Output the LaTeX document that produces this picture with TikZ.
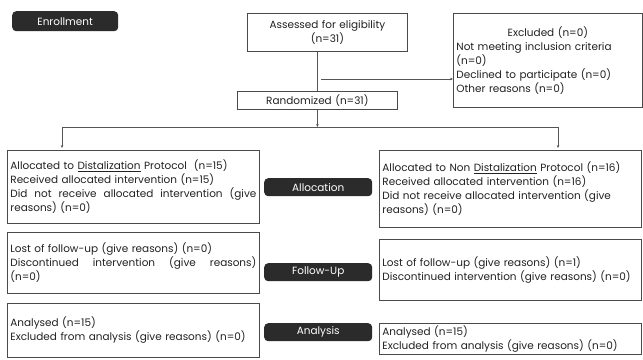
\documentclass[tikz,border=0pt]{standalone}
\usepackage{fontspec}
\setmainfont{Poppins}
\usetikzlibrary{arrows.meta}
\definecolor{boxc}{HTML}{4A4A4A}
\definecolor{lblc}{HTML}{2B2B2B}
\definecolor{arrc}{HTML}{555555}
\definecolor{txtc}{HTML}{222222}
\newcommand{\jline}[2]{\leavevmode\hbox to #1{#2}}
\tikzset{
  box/.style={draw=boxc, line width=0.8bp, anchor=north west, inner xsep=3bp, inner ysep=0bp,
    font=\fontsize{10.5}{14}\selectfont, text=txtc, align=left},
  lbl/.style={fill=lblc, rounded corners=4bp, text=white, anchor=north west, inner sep=0bp,
    font=\fontsize{10.5}{12}\selectfont, align=center},
  arr/.style={draw=arrc, line width=0.7bp, -{Stealth[length=3bp,width=2.6bp]}},
  ln/.style={draw=arrc, line width=0.7bp}
}
\begin{document}
\begin{tikzpicture}[x=1bp,y=-1bp]
\useasboundingbox[fill=white] (0,0) rectangle (643,359);
% stage labels
\node[lbl, minimum width=106bp, minimum height=20bp] (enr) at (12,11) {Enrollment};
\node[lbl, minimum width=108bp, minimum height=18bp] (alloc) at (264,178) {Allocation};
\node[lbl, minimum width=108bp, minimum height=18bp] (fu) at (264,263) {Follow-Up};
\node[lbl, minimum width=108bp, minimum height=18bp] (an) at (264,323) {Analysis};
% enrollment boxes
\node[box, align=center, text width=154bp, minimum height=38bp] (assess) at (247,13)
  {Assessed for eligibility\\(n=31)};
\node[box, text width=183bp, minimum height=94bp] (excl) at (453,13)
  {\makebox[183bp][c]{Excluded (n=0)}\\Not meeting inclusion criteria\\(n=0)\\Declined to participate (n=0)\\Other reasons (n=0)};
\node[box, align=center, text width=154bp, minimum height=18bp] (rand) at (237,91)
  {Randomized (n=31)};
% left column
\node[box, text width=246bp, minimum height=73bp] (la) at (7,150)
  {Allocated to \underline{Distalization} Protocol\ \ (n=15)\\Received allocated intervention (n=15)\\\jline{246bp}{Did\hfill not\hfill receive\hfill allocated\hfill intervention\hfill (give}\\reasons) (n=0)};
\node[box, text width=246bp, minimum height=61bp] (lf) at (7,232)
  {Lost of follow-up (give reasons) (n=0)\\\jline{246bp}{Discontinued\hfill intervention\hfill (give\hfill reasons)}\\(n=0)};
\node[box, text width=246bp, minimum height=54bp] (lan) at (7,303)
  {Analysed (n=15)\\Excluded from analysis (give reasons) (n=0)};
% right column
\node[box, text width=256bp, minimum height=77bp] (ra) at (379,150)
  {Allocated to Non \underline{Distalization} Protocol (n=16)\\Received allocated intervention (n=16)\\Did not receive allocated intervention (give\\reasons) (n=0)};
\node[box, text width=256bp, minimum height=61bp] (rf) at (379,239)
  {Lost of follow-up (give reasons) (n=1)\\Discontinued intervention (give reasons) (n=0)};
\node[box, text width=256bp, minimum height=31bp] (ran) at (379,323)
  {Analysed (n=15)\\Excluded from analysis (give reasons) (n=0)};
% connectors
\draw[ln] (rand.north |- assess.south) -- (rand.north);
\coordinate (ex) at (321,79);
\draw[arr] (ex) -- (ex -| excl.west);
\coordinate (jL) at (62,127);
\coordinate (jR) at (558,127);
\draw[arr] (rand.south) -- (rand.south |- jL);
\draw[ln] (jL) -- (jR);
\draw[arr, shorten >=2bp] (jL) -- (jL |- la.north);
\draw[arr, shorten >=2bp] (jR) -- (jR |- ra.north);
\end{tikzpicture}
\end{document}
